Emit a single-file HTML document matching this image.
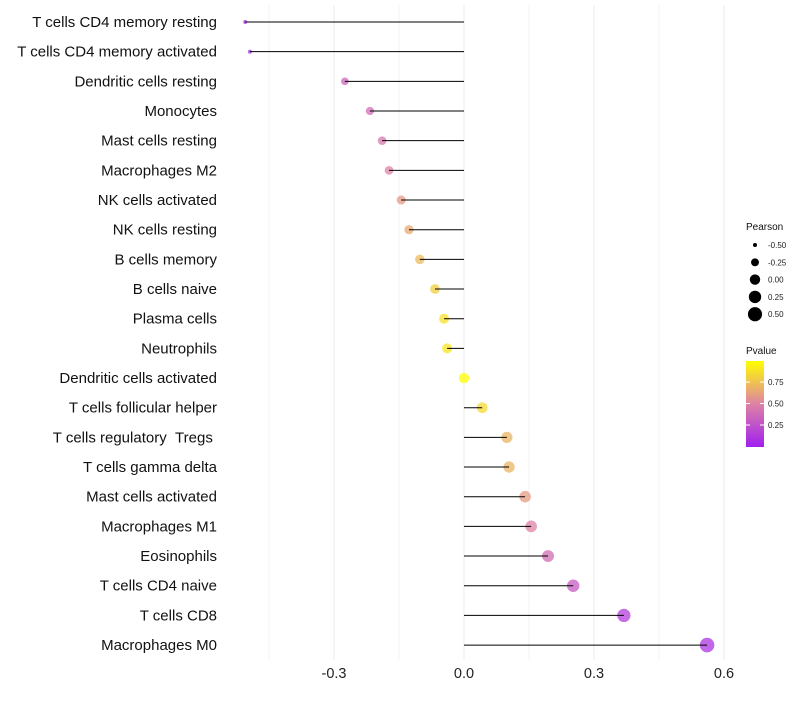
<!DOCTYPE html>
<html><head><meta charset="utf-8"><style>
body{margin:0;background:#fff;font-family:"Liberation Sans",sans-serif}
</style></head><body>
<svg id="chart" width="800" height="700" xmlns="http://www.w3.org/2000/svg" font-family="Liberation Sans, sans-serif">
<g id="grid"></g>
<g id="dots"></g>
<g id="marks"></g>
<g id="labels"></g>
<g id="xticks"></g>
<g id="legend"></g>
</svg>
<script>
const categories=["T cells CD4 memory resting","T cells CD4 memory activated","Dendritic cells resting","Monocytes","Mast cells resting","Macrophages M2","NK cells activated","NK cells resting","B cells memory","B cells naive","Plasma cells","Neutrophils","Dendritic cells activated","T cells follicular helper","T cells regulatory\u00a0\u00a0Tregs\u00a0","T cells gamma delta","Mast cells activated","Macrophages M1","Eosinophils","T cells CD4 naive","T cells CD8","Macrophages M0"];
const pearson=[-0.505,-0.494,-0.275,-0.217,-0.189,-0.173,-0.145,-0.127,-0.102,-0.067,-0.046,-0.039,0.0,0.042,0.099,0.104,0.141,0.155,0.194,0.252,0.369,0.561];
const pvalue=[0.05,0.07,0.35,0.4,0.45,0.5,0.6,0.65,0.72,0.8,0.88,0.9,1.0,0.85,0.7,0.7,0.6,0.5,0.4,0.3,0.15,0.1];
const xTicks=[-0.3,0,0.3,0.6];
const xTickLabels=["-0.3","0.0","0.3","0.6"];
const sizeLegend=[-0.5,-0.25,0,0.25,0.5];
const sizeLegendLabels=["-0.50","-0.25","0.00","0.25","0.50"];
const colorTicks=[0.75,0.5,0.25];
const colorTickLabels=["0.75","0.50","0.25"];

const NS="http://www.w3.org/2000/svg";
const x=v=>464+v*433.3;
const y=i=>22+i*29.67;
const rad=v=>Math.sqrt(Math.max(3,27+46*v));
function col(p){
  const a=[160,32,240],m=[222,130,165],b=[255,255,0];
  let c;
  if(p<0.5){const t=p/0.5;c=a.map((v,i)=>v+(m[i]-v)*t);}else{const t=(p-0.5)/0.5;c=m.map((v,i)=>v+(b[i]-v)*t);}
  return `rgb(${c.map(Math.round).join(',')})`;
}
function mk(tag,attrs,parent){const e=document.createElementNS(NS,tag);for(const k in attrs)e.setAttribute(k,attrs[k]);parent.appendChild(e);return e;}
const grid=document.getElementById('grid'),dots=document.getElementById('dots'),marks=document.getElementById('marks'),labels=document.getElementById('labels'),xt=document.getElementById('xticks'),lg=document.getElementById('legend');
[-0.45,-0.15,0.15,0.45].forEach(v=>{const l=mk('line',{x1:x(v),x2:x(v),y1:5,y2:660,stroke:'#f3f3f3','stroke-width':1},grid);

});
xTicks.forEach((v,i)=>{const l=mk('line',{x1:x(v),x2:x(v),y1:5,y2:660,stroke:'#ebebeb','stroke-width':1},grid);


const t=mk('text',{x:x(v),y:678,'text-anchor':'middle','font-size':14.5,fill:'#222'},xt);t.textContent=xTickLabels[i];

});
categories.forEach((c,i)=>{
  const t=mk('text',{x:217,y:y(i)+5,'text-anchor':'end','font-size':15,fill:'#111'},labels);t.textContent=c;
  
  
  const d=mk('circle',{cx:x(pearson[i]),cy:y(i),r:rad(pearson[i]),fill:col(pvalue[i]),'fill-opacity':0.75},dots);
  
  
  const l=mk('line',{x1:x(0),x2:x(pearson[i]),y1:y(i),y2:y(i),stroke:'#000','stroke-width':1},marks);
  
  
});
let t=mk('text',{x:746,y:230,'font-size':10,fill:'#111'},lg);t.textContent='Pearson';


sizeLegend.forEach((v,i)=>{const cy=245+i*17.3;
 const c=mk('circle',{cx:755,cy:cy,r:rad(v),fill:'#000'},lg);
 
 
 const tt=mk('text',{x:768,y:cy+3,'font-size':8,fill:'#222'},lg);tt.textContent=sizeLegendLabels[i];
 
 });
t=mk('text',{x:746,y:354,'font-size':10,fill:'#111'},lg);t.textContent='Pvalue';


const defs=mk('defs',{},lg);const g=mk('linearGradient',{id:'pg',x1:0,y1:1,x2:0,y2:0},defs);
[0,0.25,0.5,0.75,1].forEach(p=>mk('stop',{offset:p,'stop-color':col(p)},g));
const cb=mk('rect',{x:746,y:361,width:18,height:86,fill:'url(#pg)'},lg);


colorTicks.forEach((v,i)=>{const cy=446.5-v*86;
 mk('line',{x1:746,x2:750,y1:cy,y2:cy,stroke:'#fff'},lg);mk('line',{x1:760,x2:764,y1:cy,y2:cy,stroke:'#fff'},lg);
 const tt=mk('text',{x:768,y:cy+3,'font-size':8,fill:'#222'},lg);tt.textContent=colorTickLabels[i];
 
 });
</script>
</body></html>
